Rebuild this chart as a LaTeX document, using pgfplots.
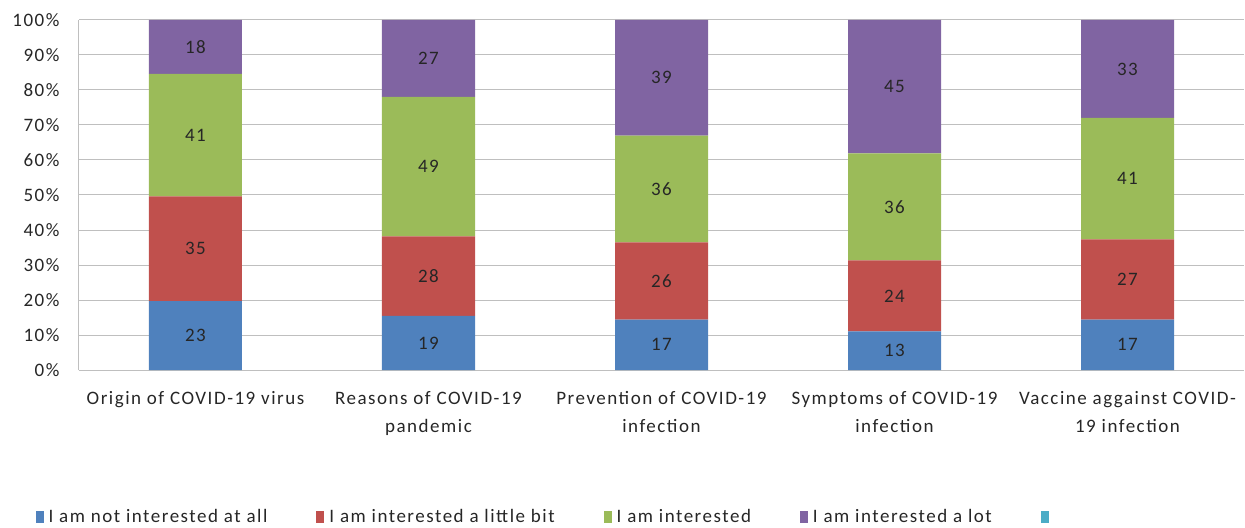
\documentclass[border=0pt]{standalone}
\usepackage{pgfplots}
\usepackage{pgfplotstable}
\pgfplotsset{compat=1.18}
\usepackage{fontspec}
\setmainfont{Carlito}[LetterSpace=8]
\definecolor{cblue}{HTML}{4F81BD}
\definecolor{cred}{HTML}{C0504D}
\definecolor{cgreen}{HTML}{9BBB59}
\definecolor{cpurple}{HTML}{8064A2}
\definecolor{ccyan}{HTML}{4BACC6}
\definecolor{gridgray}{HTML}{BFBFBF}
\definecolor{txt}{HTML}{262626}

\pgfplotstableread{
x a b c d
0 23 35 41 18
1 19 28 49 27
2 17 26 36 39
3 13 24 36 45
4 17 27 41 33
}\data
\pgfplotstablecreatecol[create col/expr={100*\thisrow{a}/(\thisrow{a}+\thisrow{b}+\thisrow{c}+\thisrow{d})}]{pa}\data
\pgfplotstablecreatecol[create col/expr={100*\thisrow{b}/(\thisrow{a}+\thisrow{b}+\thisrow{c}+\thisrow{d})}]{pb}\data
\pgfplotstablecreatecol[create col/expr={100*\thisrow{c}/(\thisrow{a}+\thisrow{b}+\thisrow{c}+\thisrow{d})}]{pc}\data
\pgfplotstablecreatecol[create col/expr={100*\thisrow{d}/(\thisrow{a}+\thisrow{b}+\thisrow{c}+\thisrow{d})}]{pd}\data

\begin{document}
\begin{tikzpicture}
\begin{axis}[
  width=1165bp, height=350bp, scale only axis,
  ybar stacked, bar width=93bp,
  xmin=-0.5, xmax=4.5, ymin=0, ymax=100,
  clip=false,
  xtick={0,1,2,3,4},
  xticklabels={Origin of COVID-19 virus,{Reasons of COVID-19\\pandemic},{Prevention of COVID-19\\infection},{Symptoms of COVID-19\\infection},{Vaccine aggainst COVID-\\19 infection}},
  xticklabel style={align=center, font=\fontsize{19bp}{28bp}\selectfont, text=txt, yshift=-18bp},
  ytick={0,10,...,100},
  yticklabel={\pgfmathprintnumber{\tick}\%},
  yticklabel style={font=\fontsize{19bp}{22bp}\selectfont, text=txt, xshift=-16bp},
  /pgf/number format/assume math mode=true,
  ymajorgrids, grid style={gridgray, line width=1bp},
  axis lines*=left,
  axis line style={gridgray, line width=1bp},
  tick style={draw=none},
  point meta=explicit,
  nodes near coords,
  every node near coord/.append style={anchor=center, font=\fontsize{19bp}{22bp}\selectfont, text=txt},
  legend columns=-1,
  legend image code/.code={\fill[#1] (0bp,-6bp) rectangle (8bp,6bp);},
  legend style={draw=none, fill=none, at={(-0.040,-0.42)}, anchor=west,
    font=\fontsize{19bp}{22bp}\selectfont, text=txt,
    /tikz/every even column/.append style={column sep=47bp},
    /tikz/every odd column/.append style={column sep=3bp}},
]
\addplot[fill=cblue, draw=none] table[x=x, y=pa, meta=a] {\data};
\addplot[fill=cred, draw=none] table[x=x, y=pb, meta=b] {\data};
\addplot[fill=cgreen, draw=none] table[x=x, y=pc, meta=c] {\data};
\addplot[fill=cpurple, draw=none] table[x=x, y=pd, meta=d] {\data};
\addlegendentry{I am not interested at all}
\addlegendentry{I am interested a little bit}
\addlegendentry{I am interested}
\addlegendentry{I am interested a lot}
\addlegendimage{fill=ccyan, draw=none}
\addlegendentry{}
\end{axis}
\pgfresetboundingbox
\path (-79bp,-158bp) rectangle (1166bp,370bp);
\end{tikzpicture}
\end{document}
